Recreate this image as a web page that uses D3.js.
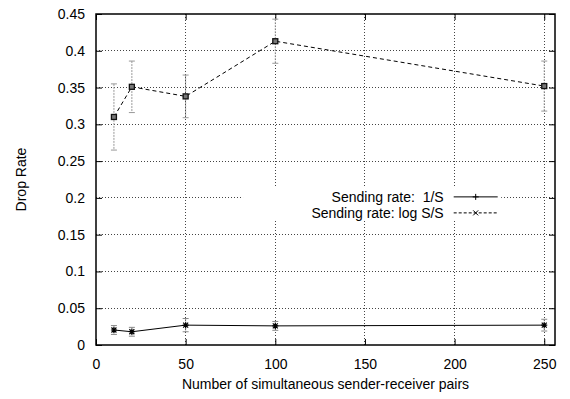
<!DOCTYPE html>
<html>
<head>
<meta charset="utf-8">
<script src="https://cdn.jsdelivr.net/npm/d3@7"></script>
<style>
  body { margin: 0; background: #fff; }
  text { font-family: "Liberation Sans", Arial, sans-serif; fill: #000; }
</style>
</head>
<body>
<div id="chart"></div>
<script>
// data
const pairs = [10, 20, 50, 100, 250];
const rateInv = [0.0204, 0.018, 0.027, 0.026, 0.027];
const rateInvErr = [0.006, 0.006, 0.009, 0.006, 0.008];
const rateLog = [0.31, 0.351, 0.338, 0.413, 0.352];
const rateLogErr = [0.045, 0.035, 0.029, 0.03, 0.034];
const xTicks = [0, 50, 100, 150, 200, 250];
const yTicks = [0, 0.05, 0.1, 0.15, 0.2, 0.25, 0.3, 0.35, 0.4, 0.45];
const legendLabels = ['Sending rate:  1/S', 'Sending rate: log S/S'];

const W = 570, H = 399;
const margin = {top: 14, right: 15, bottom: 54, left: 96};
const width = W - margin.left - margin.right;
const height = H - margin.top - margin.bottom;

const svg = d3.select('#chart').append('svg')
  .attr('width', W)
  .attr('height', H);

const chart = svg.append('g')
  .attr('transform', `translate(${margin.left},${margin.top})`);

const x = d3.scaleLinear().domain([0, 256]).range([0, width]);
const y = d3.scaleLinear().domain([0, 0.45]).range([height, 0]);

// grid
const grid = chart.append('g').attr('class', 'grid');
grid.selectAll('.gx')
  .data(xTicks.slice(1))
  .enter().append('line')
  .attr('x1', d => x(d)).attr('x2', d => x(d))
  .attr('y1', 0).attr('y2', height);
grid.selectAll('.gy')
  .data(yTicks.slice(1, -1))
  .enter().append('line')
  .attr('x1', 0).attr('x2', width)
  .attr('y1', d => y(d)).attr('y2', d => y(d));
grid.selectAll('line')
  .attr('stroke', '#444')
  .attr('stroke-width', 1)
  .attr('stroke-dasharray', '1,2')
  .attr('shape-rendering', 'crispEdges');

// axes, ticks pointing inward on all four sides
const fmtY = d => d === 0 ? '0' : String(+d.toFixed(2));
chart.append('g')
  .attr('transform', `translate(0,${height})`)
  .call(d3.axisBottom(x).tickValues(xTicks).tickSizeInner(-6).tickSizeOuter(0).tickPadding(14));
chart.append('g')
  .call(d3.axisLeft(y).tickValues(yTicks).tickFormat(fmtY).tickSizeInner(-6).tickSizeOuter(0).tickPadding(11));
chart.append('g')
  .call(d3.axisTop(x).tickValues(xTicks).tickSizeInner(-6).tickSizeOuter(0).tickFormat(''));
chart.append('g')
  .attr('transform', `translate(${width},0)`)
  .call(d3.axisRight(y).tickValues(yTicks).tickSizeInner(-6).tickSizeOuter(0).tickFormat(''));

chart.selectAll('.domain').remove();
chart.selectAll('.tick line').attr('stroke', '#000');
chart.selectAll('.tick text')
  .attr('font-size', 14)
  .attr('font-family', '"Liberation Sans", Arial, sans-serif');

// legend box (opaque)
const legend = chart.append('g').attr('transform', `translate(${x(82)},${y(0.2) - 11})`);
legend.append('rect')
  .attr('x', 0).attr('y', 0)
  .attr('width', x(226) - x(82)).attr('height', 34)
  .attr('fill', '#fff');

// error bars
function errorBars(vals, errs, color) {
  const g = chart.append('g');
  const rows = pairs.map((p, i) => ({p: p, v: vals[i], e: errs[i]}));
  g.selectAll('line.v').data(rows).enter().append('line')
    .attr('x1', d => x(d.p)).attr('x2', d => x(d.p))
    .attr('y1', d => y(d.v + d.e)).attr('y2', d => y(d.v - d.e))
    .attr('stroke-dasharray', '2,1');
  g.selectAll('line.t').data(rows).enter().append('line')
    .attr('x1', d => x(d.p) - 3).attr('x2', d => x(d.p) + 3)
    .attr('y1', d => y(d.v + d.e)).attr('y2', d => y(d.v + d.e));
  g.selectAll('line.b').data(rows).enter().append('line')
    .attr('x1', d => x(d.p) - 3).attr('x2', d => x(d.p) + 3)
    .attr('y1', d => y(d.v - d.e)).attr('y2', d => y(d.v - d.e));
  g.selectAll('line').attr('stroke', color).attr('stroke-width', 1);
}
errorBars(rateLog, rateLogErr, '#999');
errorBars(rateInv, rateInvErr, '#888');

// lines
const line = d3.line().x(d => x(d[0])).y(d => y(d[1]));
chart.append('path')
  .datum(pairs.map((p, i) => [p, rateInv[i]]))
  .attr('d', line)
  .attr('fill', 'none').attr('stroke', '#000').attr('stroke-width', 1);
chart.append('path')
  .datum(pairs.map((p, i) => [p, rateLog[i]]))
  .attr('d', line)
  .attr('fill', 'none').attr('stroke', '#000').attr('stroke-width', 1)
  .attr('stroke-dasharray', '4,3');

// point markers
chart.selectAll('.star').data(pairs).enter().append('path')
  .attr('transform', (d, i) => `translate(${x(d)},${y(rateInv[i])})`)
  .attr('d', 'M-3,0H3M0,-3V3M-2.5,-2.5L2.5,2.5M-2.5,2.5L2.5,-2.5')
  .attr('stroke', '#000').attr('stroke-width', 1.2).attr('fill', 'none');
chart.selectAll('.sq').data(pairs).enter().append('rect')
  .attr('x', d => x(d) - 2.5).attr('y', (d, i) => y(rateLog[i]) - 2.5)
  .attr('width', 5).attr('height', 5)
  .attr('fill', '#777').attr('stroke', '#111').attr('stroke-width', 1.3);

// legend entries
const lx = x(199.5) - x(82);
legendLabels.forEach((lab, i) => {
  const ly = 10 + i * 16;
  legend.append('text')
    .attr('x', lx - 10).attr('y', ly + 5)
    .attr('text-anchor', 'end')
    .attr('font-size', 14)
    .style('white-space', 'pre')
    .text(lab);
  legend.append('line')
    .attr('x1', lx).attr('x2', lx + 44)
    .attr('y1', ly).attr('y2', ly)
    .attr('stroke', '#000').attr('stroke-width', 1)
    .attr('stroke-dasharray', i === 0 ? null : '3,2');
  if (i === 0) {
    legend.append('path')
      .attr('d', `M${lx + 19},${ly}h6M${lx + 22},${ly - 3}v6`)
      .attr('stroke', '#000').attr('fill', 'none');
  } else {
    legend.append('path')
      .attr('d', `M${lx + 19.5},${ly - 2.5}l5,5M${lx + 19.5},${ly + 2.5}l5,-5`)
      .attr('stroke', '#000').attr('fill', 'none');
  }
});

// frame
chart.append('rect')
  .attr('width', width).attr('height', height)
  .attr('fill', 'none').attr('stroke', '#000').attr('stroke-width', 1.5);

// axis titles
svg.append('text')
  .attr('x', margin.left + width / 2).attr('y', 389)
  .attr('text-anchor', 'middle').attr('font-size', 14)
  .text('Number of simultaneous sender-receiver pairs');
svg.append('text')
  .attr('transform', `translate(26,${margin.top + height / 2}) rotate(-90)`)
  .attr('text-anchor', 'middle').attr('font-size', 14)
  .text('Drop Rate');
</script>
</body>
</html>
